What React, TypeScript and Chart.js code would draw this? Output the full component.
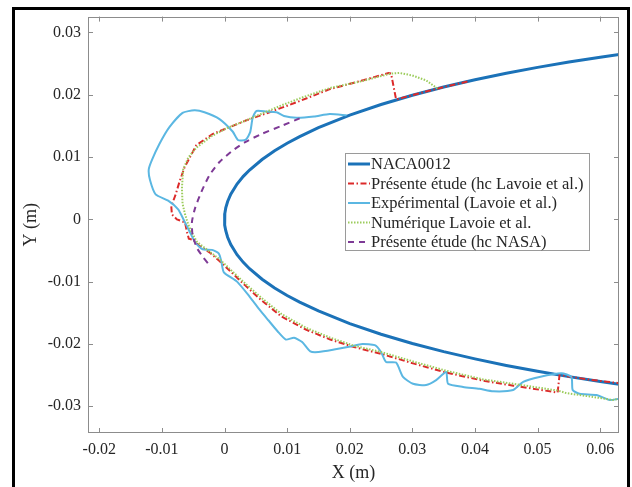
import React, { useEffect, useRef } from 'react';
import { Chart, registerables } from 'chart.js';

Chart.register(...registerables);

const SERIES_LABELS = [
  'NACA0012',
  'Présente étude (hc Lavoie et al.)',
  'Expérimental (Lavoie et al.)',
  'Numérique Lavoie et al.',
  'Présente étude (hc NASA)',
];

const X_TITLE = 'X (m)';
const Y_TITLE = 'Y (m)';

// NACA0012 contour (upper surface from the right, around the leading edge, lower surface)
const NACA_X = [
  0.065, 0.06, 0.055, 0.05, 0.045, 0.04, 0.035, 0.03, 0.025, 0.02, 0.015, 0.012, 0.01, 0.008, 0.006,
  0.004, 0.003, 0.002, 0.001, 0.0005, 0.0002, 0.00005, 0, 0.00005, 0.0002, 0.0005, 0.001, 0.002,
  0.003, 0.004, 0.006, 0.008, 0.01, 0.012, 0.015, 0.02, 0.025, 0.03, 0.035, 0.04, 0.045, 0.05,
  0.055, 0.06, 0.065,
];
const NACA_Y = [
  0.02674, 0.02603, 0.02525, 0.0244, 0.02345, 0.0224, 0.02124, 0.01993, 0.01844, 0.01673, 0.01471,
  0.01329, 0.01222, 0.01101, 0.00961, 0.00792, 0.0069, 0.00567, 0.00404, 0.00287, 0.00183, 0.00092,
  0, -0.00092, -0.00183, -0.00287, -0.00404, -0.00567, -0.0069, -0.00792, -0.00961, -0.01101,
  -0.01222, -0.01329, -0.01471, -0.01673, -0.01844, -0.01993, -0.02124, -0.0224, -0.02345, -0.0244,
  -0.02525, -0.02603, -0.02674,
];

// Présente étude (hc Lavoie et al.)
const HC_LAVOIE_X = [
  0.0388, 0.035, 0.031, 0.0274, 0.0266, 0.0262, 0.022, 0.0168, 0.0115, 0.0072, 0.0035, 0.0008,
  -0.0019, -0.0045, -0.0064, -0.0072, -0.0078, -0.0085, -0.0084, -0.0076, -0.0063, -0.006, -0.0057,
  -0.005, -0.0041, -0.0024, -0.0008, 0.0011, 0.0033, 0.0059, 0.0091, 0.013, 0.0169, 0.0207, 0.025,
  0.0304, 0.0354, 0.0413, 0.0461, 0.0532, 0.0535, 0.058, 0.063,
];
const HC_LAVOIE_Y = [
  0.02212, 0.02124, 0.0202, 0.01925, 0.0234, 0.0235, 0.0223, 0.0209, 0.0188, 0.0172, 0.0159, 0.0148,
  0.0137, 0.0119, 0.0083, 0.006, 0.004, 0.0021, 0.0008, 0, -0.0005, -0.002, -0.0031, -0.0033,
  -0.0042, -0.0053, -0.0067, -0.0085, -0.0106, -0.013, -0.0156, -0.0177, -0.0193, -0.0205, -0.0216,
  -0.0232, -0.0246, -0.0259, -0.0267, -0.0278, -0.025, -0.0257, -0.0263,
];

// Expérimental (Lavoie et al.)
const EXP_X = [
  0.0195, 0.0168, 0.0143, 0.0115, 0.0095, 0.0083, 0.0067, 0.0051, 0.0045, 0.0041, 0.0034, 0.0022,
  0.0013, -0.0008, -0.0032, -0.0048, -0.0067, -0.0088, -0.0104, -0.0116, -0.0121, -0.0119, -0.011,
  -0.009, -0.0074, -0.0065, -0.0056, -0.0046, -0.0035, -0.002, -0.0009, -0.0005, -0.0001, 0.002,
  0.004, 0.0056, 0.007, 0.0085, 0.0098, 0.0111, 0.0124, 0.0137, 0.015, 0.0175, 0.0201, 0.022, 0.024,
  0.025, 0.0258, 0.0274, 0.0285, 0.0301, 0.0322, 0.0338, 0.0354, 0.0357, 0.0381, 0.0407, 0.0429,
  0.0461, 0.0477, 0.0503, 0.0538, 0.0554, 0.0556, 0.0567, 0.0594, 0.0615, 0.063,
];
const EXP_Y = [
  0.0167, 0.0169, 0.0165, 0.0163, 0.0166, 0.0172, 0.0173, 0.0174, 0.0163, 0.014, 0.0128, 0.0127,
  0.0141, 0.0161, 0.0172, 0.0175, 0.0171, 0.0148, 0.0121, 0.0095, 0.008, 0.0063, 0.004, 0.003,
  0.0016, -0.0001, -0.0019, -0.0038, -0.0048, -0.0049, -0.0055, -0.0068, -0.0085, -0.01, -0.0124,
  -0.0145, -0.0162, -0.018, -0.0193, -0.019, -0.0197, -0.0212, -0.0213, -0.0209, -0.0204, -0.02,
  -0.0202, -0.0213, -0.0229, -0.023, -0.0253, -0.0264, -0.0266, -0.0258, -0.0245, -0.0264, -0.0269,
  -0.0272, -0.0276, -0.0274, -0.0261, -0.0253, -0.0247, -0.0253, -0.0274, -0.028, -0.0282, -0.029,
  -0.0288,
];

// Numérique Lavoie et al.
const NUM_X = [
  0.034, 0.0322, 0.03, 0.028, 0.0265, 0.022, 0.0169, 0.0125, 0.0091, 0.0058, 0.003, 0.0005, -0.002,
  -0.0045, -0.0058, -0.0066, -0.0068, -0.0067, -0.0063, -0.0058, -0.0053, -0.0044, -0.0025, -0.0008,
  0.0011, 0.0033, 0.0059, 0.0091, 0.013, 0.0169, 0.0207, 0.025, 0.0304, 0.0354, 0.0413, 0.0461,
  0.0533, 0.0546, 0.0567, 0.0594, 0.062, 0.063,
];
const NUM_Y = [
  0.021, 0.0223, 0.0231, 0.0235, 0.0234, 0.0222, 0.0211, 0.0196, 0.0183, 0.0169, 0.0157, 0.0147,
  0.0134, 0.0115, 0.0099, 0.008, 0.005, 0.0025, 0.0008, -0.0008, -0.002, -0.0036, -0.0051, -0.0064,
  -0.0082, -0.0103, -0.0126, -0.0152, -0.0174, -0.019, -0.0203, -0.0213, -0.0229, -0.0243, -0.0257,
  -0.0264, -0.0275, -0.0279, -0.0282, -0.0286, -0.029, -0.0288,
];

// Présente étude (hc NASA)
const HC_NASA_X = [
  0.012, 0.0091, 0.0059, 0.0033, 0.0011, -0.0008, -0.0024, -0.0037, -0.0047, -0.0052, -0.0051,
  -0.0044, -0.0034, -0.0026,
];
const HC_NASA_Y = [
  0.0162, 0.015, 0.0137, 0.0124, 0.0109, 0.0092, 0.0071, 0.0044, 0.0018, -0.0004, -0.0025, -0.0046,
  -0.0061, -0.0071,
];

const toPoints = (xs: number[], ys: number[]) => xs.map((x, i) => ({ x, y: ys[i] }));

const SERIF = "'Liberation Serif', 'Times New Roman', serif";
const TEXT_COLOR = '#262626';
const AXIS_COLOR = '#8c8c8c';

const fmt = (v: number) => {
  const r = Math.round(v * 100) / 100;
  return Object.is(r, -0) || r === 0 ? '0' : String(r);
};

const framePlugin = {
  id: 'matlabFrame',
  afterDatasetsDraw(chart: any) {
    const { ctx, chartArea: a, scales } = chart;
    ctx.save();
    ctx.strokeStyle = AXIS_COLOR;
    ctx.lineWidth = 1;
    ctx.setLineDash([]);
    ctx.strokeRect(Math.round(a.left) + 0.5, Math.round(a.top) + 0.5, Math.round(a.right - a.left) - 1, Math.round(a.bottom - a.top) - 1);
    const tl = 5;
    ctx.beginPath();
    scales.x.ticks.forEach((t: any) => {
      const p = Math.round(scales.x.getPixelForValue(t.value)) + 0.5;
      ctx.moveTo(p, a.bottom);
      ctx.lineTo(p, a.bottom - tl);
      ctx.moveTo(p, a.top);
      ctx.lineTo(p, a.top + tl);
    });
    scales.y.ticks.forEach((t: any) => {
      const p = Math.round(scales.y.getPixelForValue(t.value)) + 0.5;
      ctx.moveTo(a.left, p);
      ctx.lineTo(a.left + tl, p);
      ctx.moveTo(a.right, p);
      ctx.lineTo(a.right - tl, p);
    });
    ctx.stroke();
    ctx.restore();
  },
  afterDraw(chart: any) {
    const { ctx } = chart;
    const box = { left: 345, top: 153, width: 244, height: 97 };
    const rowTop = 164;
    const rowGap = 19.5;
    ctx.save();
    ctx.fillStyle = '#ffffff';
    ctx.fillRect(box.left, box.top, box.width, box.height);
    ctx.strokeStyle = '#9a9a9a';
    ctx.lineWidth = 1;
    ctx.strokeRect(box.left + 0.5, box.top + 0.5, box.width, box.height);
    chart.data.datasets.forEach((ds: any, i: number) => {
      const y = rowTop + i * rowGap;
      ctx.strokeStyle = ds.borderColor;
      ctx.lineWidth = ds.borderWidth;
      ctx.setLineDash(ds.borderDash || []);
      ctx.beginPath();
      ctx.moveTo(348, y);
      ctx.lineTo(370, y);
      ctx.stroke();
      ctx.setLineDash([]);
      ctx.fillStyle = TEXT_COLOR;
      ctx.font = `16.5px ${SERIF}`;
      ctx.textAlign = 'left';
      ctx.textBaseline = 'middle';
      ctx.fillText(ds.label, 371, y + 1);
    });
    ctx.restore();
  },
};

export default function App() {
  const canvasRef = useRef<HTMLCanvasElement | null>(null);

  useEffect(() => {
    if (!canvasRef.current) return;
    const common = { pointRadius: 0, pointHoverRadius: 0, showLine: true, fill: false, clip: 0 };
    const chart = new Chart(canvasRef.current, {
      type: 'scatter',
      data: {
        datasets: [
          { ...common, label: SERIES_LABELS[0], data: toPoints(NACA_X, NACA_Y), borderColor: '#1b72b8', borderWidth: 3, tension: 0, order: 5 },
          { ...common, label: SERIES_LABELS[1], data: toPoints(HC_LAVOIE_X, HC_LAVOIE_Y), borderColor: '#dc2a2a', borderWidth: 2, borderDash: [6, 2.5, 1.5, 2.5], tension: 0, order: 4 },
          { ...common, label: SERIES_LABELS[2], data: toPoints(EXP_X, EXP_Y), borderColor: '#5bb7e2', borderWidth: 2, tension: 0.2, order: 3 },
          { ...common, label: SERIES_LABELS[3], data: toPoints(NUM_X, NUM_Y), borderColor: '#9ccc5c', borderWidth: 2, borderDash: [1.5, 1.5], tension: 0, order: 2 },
          { ...common, label: SERIES_LABELS[4], data: toPoints(HC_NASA_X, HC_NASA_Y), borderColor: '#7e3a96', borderWidth: 2, borderDash: [6, 5], tension: 0.2, order: 1 },
        ],
      } as any,
      options: {
        animation: false,
        responsive: false,
        maintainAspectRatio: false,
        devicePixelRatio: 1,
        layout: { padding: { left: 0, right: 13, top: 14, bottom: 0 } },
        plugins: { legend: { display: false }, tooltip: { enabled: false }, title: { display: false } },
        scales: {
          x: {
            type: 'linear',
            position: 'bottom',
            min: -0.0218,
            max: 0.063,
            grid: { display: false, drawTicks: false },
            border: { display: false },
            ticks: {
              stepSize: 0.01,
              includeBounds: false,
              autoSkip: false,
              maxRotation: 0,
              padding: 7,
              color: TEXT_COLOR,
              font: { family: SERIF, size: 16 },
              callback: (v: any) => fmt(Number(v)),
            },
            title: { display: true, text: X_TITLE, color: TEXT_COLOR, font: { family: SERIF, size: 18 }, padding: { top: 0, bottom: 3 } },
            afterFit: (s: any) => { s.height = 54; },
          },
          y: {
            type: 'linear',
            position: 'left',
            min: -0.0343,
            max: 0.03255,
            grid: { display: false, drawTicks: false },
            border: { display: false },
            ticks: {
              stepSize: 0.01,
              includeBounds: false,
              autoSkip: false,
              padding: 7,
              color: TEXT_COLOR,
              font: { family: SERIF, size: 16 },
              callback: (v: any) => fmt(Number(v)),
            },
            title: { display: true, text: Y_TITLE, color: TEXT_COLOR, font: { family: SERIF, size: 18 }, padding: { top: 20, bottom: 0 } },
            afterFit: (s: any) => { s.width = 88; },
          },
        },
      } as any,
      plugins: [framePlugin],
    });
    return () => chart.destroy();
  }, []);

  return (
    <div style={{ position: 'absolute', left: 0, top: 0, width: 632, height: 487, background: '#ffffff', overflow: 'hidden' }}>
      <canvas ref={canvasRef} width={632} height={487} style={{ display: 'block' }} />
      <div
        style={{
          position: 'absolute',
          left: 12,
          top: 7,
          width: 618,
          height: 520,
          boxSizing: 'border-box',
          border: '3px solid #000',
          pointerEvents: 'none',
        }}
      />
    </div>
  );
}
